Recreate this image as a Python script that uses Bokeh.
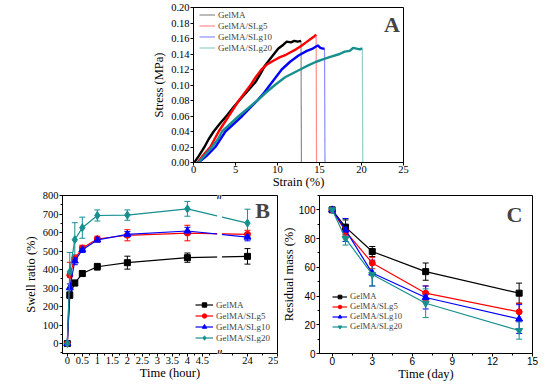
from bokeh.plotting import figure
from bokeh.models import (ColumnDataSource, Whisker, TeeHead, Legend, LegendItem, Label,
                          BoxAnnotation, FixedTicker, SingleIntervalTicker, Spacer, Range1d,
                          PrintfTickFormatter)
from bokeh.layouts import column, row
from bokeh.embed import file_html
from bokeh.resources import INLINE

SERIF = "Liberation Serif"
SANS = "Liberation Sans"

series_names = ["GelMA", "GelMA/SLg5", "GelMA/SLg10", "GelMA/SLg20"]
series_colors = ["#000000", "#ff0000", "#0000ff", "#178f8f"]

# ---------------- Panel A: stress-strain ----------------
strain_gelma = [0.1, 0.6, 1.3, 1.8, 2.4, 3.2, 4.0, 4.8, 5.6, 6.5, 7.4, 8.0, 8.5, 9.3, 10.1,
                10.7, 11.1, 11.6, 12.0, 12.4, 12.8, 12.85]
stress_gelma = [0.0, 0.008, 0.020, 0.030, 0.040, 0.051, 0.061, 0.072, 0.082, 0.093, 0.104,
                0.115, 0.125, 0.136, 0.147, 0.152, 0.156, 0.155, 0.157, 0.156, 0.157, 0.0]
strain_slg5 = [0.5, 1.2, 2.0, 2.5, 3.0, 3.6, 4.2, 4.8, 5.4, 6.1, 6.8, 7.4, 8.1, 8.7, 9.3, 10.3,
               11.0, 11.5, 12.2, 12.9, 13.4, 13.9, 14.4, 14.6, 14.65]
stress_slg5 = [0.0, 0.010, 0.020, 0.030, 0.040, 0.050, 0.060, 0.070, 0.080, 0.090, 0.100,
               0.110, 0.120, 0.126, 0.130, 0.136, 0.139, 0.142, 0.146, 0.151, 0.155, 0.159,
               0.163, 0.165, 0.0]
strain_slg10 = [0.6, 1.5, 2.6, 3.2, 3.8, 4.8, 5.8, 6.7, 7.6, 8.4, 9.1, 9.8, 10.5, 11.5, 12.5,
                13.5, 14.2, 14.8, 15.1, 15.4, 15.6, 15.65]
stress_slg10 = [0.0, 0.008, 0.020, 0.030, 0.040, 0.050, 0.060, 0.070, 0.080, 0.090, 0.100,
                0.110, 0.120, 0.130, 0.138, 0.144, 0.147, 0.151, 0.148, 0.147, 0.147, 0.0]
strain_slg20 = [0.6, 1.4, 2.2, 2.9, 3.4, 4.4, 5.4, 6.5, 7.6, 8.6, 9.7, 10.9, 12.7, 13.6, 14.6,
                15.4, 16.2, 17.4, 18.0, 18.6, 19.0, 19.4, 19.8, 20.0, 20.1, 20.15]
stress_slg20 = [0.0, 0.010, 0.020, 0.030, 0.040, 0.050, 0.060, 0.070, 0.080, 0.090, 0.100,
                0.110, 0.120, 0.125, 0.130, 0.133, 0.136, 0.140, 0.143, 0.144, 0.148, 0.147,
                0.146, 0.147, 0.147, 0.0]

# ---------------- Panel B: swell ratio ----------------
time_hours = [0, 0.083, 0.25, 0.5, 1, 2, 4, 24]
swell_gelma = [0, 261, 327, 378, 415, 437, 464, 471]
swell_gelma_err = [0, 15, 15, 15, 18, 35, 25, 42]
swell_slg5 = [0, 369, 459, 516, 565, 585, 597, 590]
swell_slg5_err = [0, 70, 20, 15, 15, 30, 42, 22]
swell_slg10 = [0, 302, 446, 507, 560, 590, 608, 575]
swell_slg10_err = [0, 20, 20, 15, 12, 15, 20, 20]
swell_slg20 = [0, 387, 561, 626, 692, 694, 728, 651]
swell_slg20_err = [0, 105, 92, 57, 30, 28, 40, 75]
b_major_ticks = [0, 0.5, 1, 1.5, 2, 2.5, 3, 3.5, 4, 4.5, 24, 25]
b_major_labels = ["0", "0.5", "1", "1.5", "2", "2.5", "3", "3.5", "4", "4.5", "24", "25"]

# ---------------- Panel C: residual mass ----------------
time_days = [0, 1, 3, 7, 14]
mass_gelma = [100, 88, 71, 57, 42]
mass_gelma_err = [0.5, 5, 3.5, 6, 7]
mass_slg5 = [100, 85, 63, 42, 29]
mass_slg5_err = [0.5, 3, 4, 5, 6]
mass_slg10 = [100, 86, 56, 39, 24]
mass_slg10_err = [0.5, 8, 9, 8, 10]
mass_slg20 = [100, 80, 55, 35, 16]
mass_slg20_err = [0.5, 4.5, 8, 10, 6]


def style(p, tick_font=SERIF, tick_size="10.5px", label_size="12.5px", ylabel_standoff=2):
    for ax in list(p.xaxis) + list(p.yaxis):
        ax.major_tick_out = 3
        ax.major_tick_in = 0
        ax.minor_tick_out = 2
        ax.minor_tick_in = 0
        ax.major_label_text_font = tick_font
        ax.major_label_text_font_size = tick_size
        ax.major_label_text_color = "black"
        ax.axis_label_text_font = SERIF
        ax.axis_label_text_font_size = label_size
        ax.axis_label_text_font_style = "normal"
        ax.axis_label_text_color = "black"
        ax.axis_line_color = "black"
        ax.major_tick_line_color = "black"
        ax.minor_tick_line_color = "black"
        ax.major_label_standoff = 1
        ax.axis_label_standoff = ylabel_standoff
    for ax in p.xaxis:
        ax.major_label_standoff = 0
        ax.axis_label_standoff = -1
    p.xgrid.visible = False
    p.ygrid.visible = False
    p.outline_line_color = "black"
    p.outline_line_alpha = 1
    p.outline_line_width = 1
    p.background_fill_color = "white"
    p.border_fill_color = "white"


def make_legend(items, loc, glyph_w, lh, font_size):
    return Legend(items=items, location=loc, padding=0, margin=0, spacing=0,
                  glyph_width=glyph_w, glyph_height=lh, label_height=lh,
                  label_standoff=3, label_text_font=SERIF, label_text_font_size=font_size,
                  background_fill_alpha=0, border_line_alpha=0)


# ================= Figure A =================
FA = 155
pA = figure(frame_width=210, frame_height=FA, min_border_left=45, min_border_right=8,
            min_border_top=7, min_border_bottom=28,
            x_range=Range1d(0, 25), y_range=Range1d(0, 0.2),
            x_axis_label="Strain (%)", y_axis_label="Stress (MPa)",
            output_backend="svg", toolbar_location=None)
pA.xaxis.ticker = SingleIntervalTicker(interval=5, num_minor_ticks=0)
pA.yaxis.ticker = SingleIntervalTicker(interval=0.02, num_minor_ticks=0)
pA.yaxis.formatter = PrintfTickFormatter(format="%.2f")
style(pA)

a_strains = [strain_gelma, strain_slg5, strain_slg10, strain_slg20]
a_stresses = [stress_gelma, stress_slg5, stress_slg10, stress_slg20]
a_items = []
for name, c, sx, sy in zip(series_names, series_colors, a_strains, a_stresses):
    pA.line(sx[:-1], sy[:-1], line_color=c, line_width=2.4)
    drop = pA.line(sx[-2:], sy[-2:], line_color=c, line_width=1.2, line_alpha=0.45)
    a_items.append(LegendItem(label=name, renderers=[drop]))
pA.add_layout(make_legend(a_items, (6, FA - 46), 16, 11, "9px"))
pA.add_layout(Label(x=23.63, y=0.1776, text="A", text_font=SERIF, text_font_style="bold",
                    text_font_size="22px", text_align="center", text_baseline="middle"))

# ================= Figure B (broken x axis) =================
BREAK_LO, BREAK_HI = 5.05, 23.05


def bx(t):
    return t if t <= BREAK_LO else t - (BREAK_HI - BREAK_LO)


FB = 158
pB = figure(frame_width=215, frame_height=FB, min_border_left=62, min_border_right=1,
            min_border_top=4, min_border_bottom=28,
            x_range=Range1d(-0.16, bx(25)), y_range=Range1d(-54, 800),
            x_axis_label="Time (hour)", y_axis_label="Swell ratio (%)",
            output_backend="svg", toolbar_location=None)
b_ticks = [bx(t) for t in b_major_ticks]
b_minor = [bx(t + 0.25) for t in b_major_ticks[:10]] + [bx(23.5), bx(24.5)]
pB.xaxis.ticker = FixedTicker(ticks=b_ticks, minor_ticks=b_minor)
pB.xaxis.major_label_overrides = {t: lab for t, lab in zip(b_ticks, b_major_labels)}
pB.yaxis.ticker = SingleIntervalTicker(interval=100, num_minor_ticks=2)
style(pB)

b_vals = [swell_gelma, swell_slg5, swell_slg10, swell_slg20]
b_errs = [swell_gelma_err, swell_slg5_err, swell_slg10_err, swell_slg20_err]
b_markers = ["square", "circle", "triangle", "diamond"]
b_sizes = [6, 6, 7, 8]
bt = [bx(t) for t in time_hours]
b_items = []
for name, c, v, e, mk, sz in zip(series_names, series_colors, b_vals, b_errs, b_markers, b_sizes):
    src = ColumnDataSource(dict(x=bt, y=v, upper=[a + b for a, b in zip(v, e)],
                                lower=[a - b for a, b in zip(v, e)]))
    rl = pB.line("x", "y", source=src, line_color=c, line_width=1.2)
    rs = pB.scatter("x", "y", source=src, marker=mk, size=sz, fill_color=c, line_color=c)
    pB.add_layout(Whisker(base="x", upper="upper", lower="lower", source=src, line_color=c,
                          line_width=1,
                          upper_head=TeeHead(size=6, line_color=c, line_width=1),
                          lower_head=TeeHead(size=6, line_color=c, line_width=1)))
    b_items.append(LegendItem(label=name, renderers=[rl, rs]))
pB.add_layout(BoxAnnotation(left=4.99, right=5.15, fill_color="white", fill_alpha=1,
                            line_alpha=0))
for yy in (800, -54):
    pB.add_layout(Label(x=5.07, y=yy, text="//", text_font=SANS, text_font_size="9px",
                        text_font_style="bold", text_align="center", text_baseline="middle",
                        background_fill_color="white", text_color="black"))
pB.add_layout(make_legend(b_items, (133, 10), 18, 11, "9px"))
pB.add_layout(Label(x=6.5, y=717, text="B", text_font=SERIF, text_font_style="bold",
                    text_font_size="22px", text_align="center", text_baseline="middle"))

# ================= Figure C =================
FC = 158
pC = figure(frame_width=213, frame_height=FC, min_border_left=33, min_border_right=12,
            min_border_top=4, min_border_bottom=28,
            x_range=Range1d(-0.95, 15), y_range=Range1d(0, 110),
            x_axis_label="Time (day)", y_axis_label="Residual mass (%)",
            output_backend="svg", toolbar_location=None)
pC.xaxis.ticker = SingleIntervalTicker(interval=3, num_minor_ticks=2)
pC.yaxis.ticker = SingleIntervalTicker(interval=20, num_minor_ticks=2)
style(pC, tick_font=SANS, tick_size="10px", ylabel_standoff=0)

c_vals = [mass_gelma, mass_slg5, mass_slg10, mass_slg20]
c_errs = [mass_gelma_err, mass_slg5_err, mass_slg10_err, mass_slg20_err]
c_markers = ["square", "circle", "triangle", "inverted_triangle"]
c_sizes = [6, 6, 7, 7]
c_items = []
for name, c, v, e, mk, sz in zip(series_names, series_colors, c_vals, c_errs, c_markers, c_sizes):
    src = ColumnDataSource(dict(x=time_days, y=v, upper=[a + b for a, b in zip(v, e)],
                                lower=[a - b for a, b in zip(v, e)]))
    rl = pC.line("x", "y", source=src, line_color=c, line_width=1.2)
    rs = pC.scatter("x", "y", source=src, marker=mk, size=sz, fill_color=c, line_color=c)
    pC.add_layout(Whisker(base="x", upper="upper", lower="lower", source=src, line_color=c,
                          line_width=1,
                          upper_head=TeeHead(size=6, line_color=c, line_width=1),
                          lower_head=TeeHead(size=6, line_color=c, line_width=1)))
    c_items.append(LegendItem(label=name, renderers=[rl, rs]))
pC.add_layout(make_legend(c_items, (13, 22), 15, 9, "8.7px"))
pC.add_layout(Label(x=13.65, y=96.5, text="C", text_font=SERIF, text_font_style="bold",
                    text_font_size="22px", text_align="center", text_baseline="middle"))

layout = column(row(Spacer(width=148, height=190), pA), row(pB, pC))

with open("out.html", "w") as f:
    f.write(file_html(layout, INLINE, title="GelMA hydrogel properties"))
